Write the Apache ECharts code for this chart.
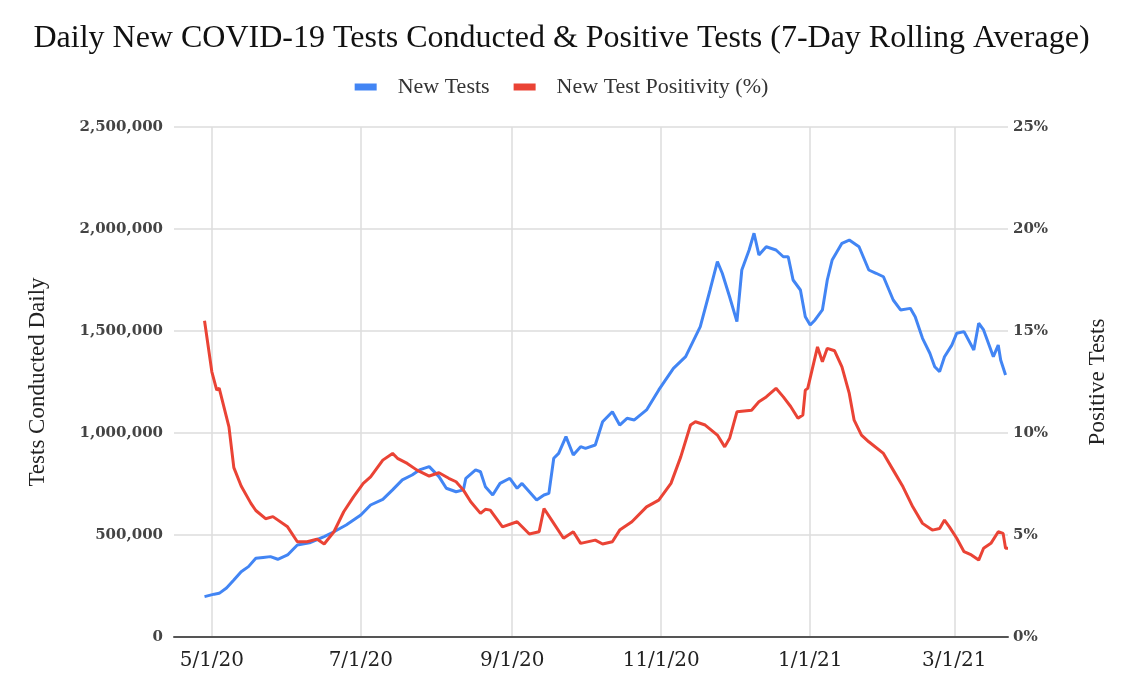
<!DOCTYPE html>
<html>
<head>
<meta charset="utf-8">
<script src="https://cdn.jsdelivr.net/npm/echarts@6/dist/echarts.min.js"></script>
<style>
html,body{margin:0;padding:0;background:#fff;}
#chart{width:1123px;height:682px;}
</style>
</head>
<body>
<div id="chart"></div>
<script>
// days counted from 5/1/20
var testDays = [-3,1,3,6,9,12,15,18,21,24,27,31,35,40,46,50,55,61,65,70,74,78,82,85,89,93,96,100,103,104,108,110,112,115,118,122,125,127,133,136,138,140,142,145,148,151,153,157,160,164,167,170,173,178,183,189,194,200,204,207,209,212,215,217,220,222,224,227,231,234,236,238,241,243,245,247,250,252,254,258,261,265,269,272,275,279,282,286,288,291,294,296,298,300,303,305,308,312,314,316,320,322,323,325];
var testValues = [198000,210000,214000,240000,279000,320000,345000,386000,390000,394000,381000,402000,451000,462000,492000,516000,549000,598000,647000,675000,721000,770000,794000,819000,835000,786000,729000,712000,721000,778000,819000,810000,737000,696000,753000,778000,729000,753000,672000,696000,704000,876000,900000,982000,892000,933000,925000,941000,1055000,1104000,1039000,1072000,1064000,1113000,1211000,1317000,1374000,1521000,1701000,1840000,1783000,1668000,1546000,1799000,1897000,1979000,1873000,1913000,1897000,1864000,1864000,1750000,1701000,1570000,1529000,1554000,1603000,1750000,1848000,1930000,1946000,1913000,1799000,1783000,1766000,1652000,1603000,1611000,1570000,1464000,1391000,1325000,1301000,1374000,1431000,1489000,1497000,1407000,1538000,1505000,1374000,1431000,1358000,1284000];

var posDays = [-3,0,2,3,7,9,12,16,18,22,25,31,35,39,43,46,50,54,58,62,65,70,74,76,80,84,89,93,97,100,103,106,110,112,114,119,125,130,134,136,140,144,148,151,157,160,164,167,172,178,183,188,192,196,198,202,207,210,212,215,221,224,227,231,234,237,240,242,243,244,248,250,252,255,258,261,263,266,269,275,279,283,287,291,295,298,300,302,305,308,311,314,316,319,322,324,325,326];
var posValues = [15.5,13.0,12.1,12.2,10.3,8.3,7.4,6.55,6.2,5.8,5.9,5.4,4.67,4.67,4.8,4.56,5.16,6.14,6.87,7.53,7.85,8.67,9.0,8.76,8.51,8.18,7.89,8.05,7.78,7.61,7.2,6.63,6.06,6.26,6.22,5.4,5.65,5.05,5.16,6.3,5.57,4.84,5.16,4.59,4.75,4.56,4.67,5.24,5.65,6.38,6.71,7.53,8.83,10.39,10.55,10.39,9.9,9.32,9.74,11.04,11.12,11.53,11.77,12.19,11.77,11.3,10.72,10.88,12.1,12.19,14.22,13.49,14.15,14.03,13.24,11.94,10.63,9.9,9.57,9.0,8.18,7.36,6.38,5.57,5.24,5.32,5.73,5.4,4.84,4.18,4.02,3.77,4.35,4.59,5.16,5.08,4.35,4.35];

// tick positions (days from 5/1/20) and their labels
var tickDays = [0,61,123,184,245,304];
var tickLabels = ['5/1/20','7/1/20','9/1/20','11/1/20','1/1/21','3/1/21'];

var testData = [];
for(var i=0;i<testDays.length;i++){
	testData.push([testDays[i], testValues[i]]);
}
var posData = [];
for(var i=0;i<posDays.length;i++){
	posData.push([posDays[i], posValues[i]]);
}

var serif = '"DejaVu Serif", serif';
var times = '"Liberation Serif", serif';

var option = {
	animation: false,
	backgroundColor: '#fff',
	title: {
		text: 'Daily New COVID-19 Tests Conducted & Positive Tests (7-Day Rolling Average)',
		left: 'center',
		top: 18,
		textStyle: {fontFamily: times, fontSize: 32, fontWeight: 'normal', color: '#111'}
	},
	legend: {
		top: 71,
		left: 'center',
		itemWidth: 22,
		itemHeight: 7,
		itemGap: 24,
		icon: 'rect',
		textStyle: {fontFamily: times, fontSize: 22, color: '#333', padding: [0,0,0,16]},
		data: ['New Tests', 'New Test Positivity (%)']
	},
	grid: {left: 174, right: 115, top: 127, bottom: 45},
	xAxis: {
		type: 'value',
		min: -15.5,
		max: 326,
		axisLine: {lineStyle: {color: '#555', width: 2}},
		axisTick: {show: false, customValues: tickDays},
		splitLine: {show: true, lineStyle: {color: '#ddd', width: 1.5}},
		axisLabel: {
			customValues: tickDays,
			fontFamily: serif,
			fontSize: 20,
			color: '#222',
			margin: 14,
			formatter: function(v){
				var idx = tickDays.indexOf(v);
				return idx >= 0 ? tickLabels[idx] : '';
			}
		}
	},
	yAxis: [{
		type: 'value',
		min: 0,
		max: 2500000,
		interval: 500000,
		name: 'Tests Conducted Daily',
		nameLocation: 'middle',
		nameGap: 125,
		nameTextStyle: {fontFamily: times, fontSize: 23, color: '#222'},
		axisLine: {show: false},
		axisTick: {show: false},
		splitLine: {lineStyle: {color: '#ddd', width: 1.5}},
		axisLabel: {
			fontFamily: serif, fontSize: 15, fontWeight: 'bold', color: '#444', margin: 11,
			formatter: function(v){ return v.toString().replace(/\B(?=(\d{3})+(?!\d))/g, ','); }
		}
	}, {
		type: 'value',
		min: 0,
		max: 25,
		interval: 5,
		name: 'Positive Tests',
		nameLocation: 'middle',
		nameGap: 78,
		nameTextStyle: {fontFamily: times, fontSize: 23, color: '#222'},
		axisLine: {show: false},
		axisTick: {show: false},
		splitLine: {show: false},
		axisLabel: {fontFamily: serif, fontSize: 15, fontWeight: 'bold', color: '#444', margin: 5, formatter: '{value}%'}
	}],
	series: [{
		name: 'New Tests',
		type: 'line',
		yAxisIndex: 0,
		showSymbol: false,
		symbol: 'none',
		color: '#4285F4',
		lineStyle: {width: 3, color: '#4285F4'},
		data: testData
	}, {
		name: 'New Test Positivity (%)',
		type: 'line',
		yAxisIndex: 1,
		showSymbol: false,
		symbol: 'none',
		color: '#EA4335',
		lineStyle: {width: 3, color: '#EA4335'},
		data: posData
	}]
};

var myChart = echarts.init(document.getElementById('chart'));
myChart.setOption(option);
</script>
</body>
</html>
